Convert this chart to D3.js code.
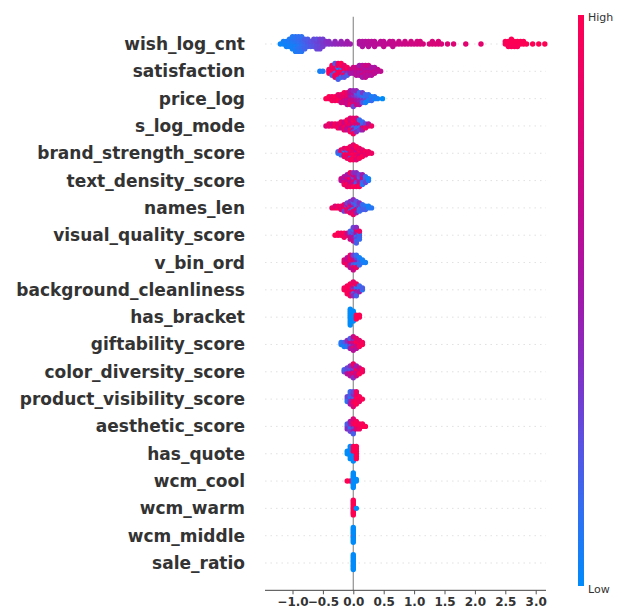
<!DOCTYPE html>
<html>
<head>
<meta charset="utf-8">
<script src="https://cdn.jsdelivr.net/npm/d3@7"></script>
<style>
  body { margin: 0; background: #fff; }
  svg { display: block; }
</style>
</head>
<body>
<svg id="chart" width="619" height="612"></svg>
<script>
// Feature names, top (most important) to bottom
const featureNames = [
  "wish_log_cnt", "satisfaction", "price_log", "s_log_mode", "brand_strength_score",
  "text_density_score", "names_len", "visual_quality_score", "v_bin_ord",
  "background_cleanliness", "has_bracket", "giftability_score", "color_diversity_score",
  "product_visibility_score", "aesthetic_score", "has_quote", "wcm_cool", "wcm_warm",
  "wcm_middle", "sale_ratio"
];

// Each row: [SHAP value, [normalised feature value of every sample with that SHAP value]]
const wish_log_cnt = [
  [-1.20, [.02]], [-1.15, [.03, .05]], [-1.10, [.02, .06, .04]], [-1.05, [.03, .07, .05, .08]],
  [-1.00, [.05, .08, .06, .1, .04, .09]], [-0.95, [.08, .1, .06, .12, .09, .11, .07]],
  [-0.90, [.1, .12, .09, .14, .11, .13, .1]], [-0.85, [.12, .15, .13, .16, .14, .12, .1]],
  [-0.80, [.15, .18, .16, .2, .17]], [-0.75, [.2, .22, .19, .21]], [-0.70, [.23, .25, .22]],
  [-0.65, [.25, .27, .24, .28]], [-0.60, [.27, .3, .28, .26, .29]], [-0.55, [.3, .32, .29, .33, .31]],
  [-0.50, [.33, .35, .34, .32]], [-0.45, [.36, .38]], [-0.40, [.38, .4]], [-0.35, [.4]],
  [-0.30, [.42, .43]], [-0.25, [.44]], [-0.20, [.45, .46]], [-0.15, [.47]], [-0.10, [.48, .5]],
  [-0.05, [.5]], [0.10, [.55, .57]], [0.15, [.56, .58, .57]], [0.20, [.58, .59]],
  [0.25, [.58, .6, .59]], [0.30, [.6, .61]], [0.35, [.6, .62, .61]], [0.40, [.62]],
  [0.45, [.62, .63]], [0.50, [.63, .64, .65]], [0.55, [.64]], [0.60, [.65, .66]],
  [0.65, [.66, .67, .65]], [0.70, [.67]], [0.75, [.68, .69]], [0.80, [.69]], [0.85, [.7, .71]],
  [0.90, [.71]], [0.95, [.72, .73]], [1.00, [.72]], [1.05, [.73, .74]], [1.10, [.74, .75]],
  [1.15, [.75]], [1.25, [.76]], [1.30, [.77, .76]], [1.35, [.77]], [1.40, [.78, .77]],
  [1.45, [.78]], [1.55, [.79]], [1.65, [.8]], [1.85, [.82]], [2.10, [.84]],
  [2.50, [.96, .97]], [2.55, [.97, .98, .96]], [2.60, [.98, .99, .97, .98]], [2.65, [.98, .99, .97]],
  [2.70, [.98, .99, .97]], [2.75, [.98, .99]], [2.80, [.99, .98]], [2.85, [.99]], [2.95, [.99]],
  [3.05, [1]], [3.15, [1]]
];
const satisfaction = [
  [-0.55, [.05]], [-0.50, [.08]], [-0.40, [.95, .9, 1]], [-0.35, [.95, 1, .9, .85, .2, .95]],
  [-0.30, [1, .95, .15, .9, 1, .95, .9, .2]], [-0.25, [.95, .9, 1, .1, .95, .85, 1, .9, .2]],
  [-0.20, [.9, 1, .95, .2, .9, .95, .15, 1]], [-0.15, [.9, .95, .3, .9, 1, .85, .25]],
  [-0.10, [.85, .9, .4, .95, .2]], [-0.05, [.6, .8, .5]], [0.00, [.6, .65, .55, .7]],
  [0.05, [.55, .6, .65, .7, .6]], [0.10, [.6, .65, .55, .7, .6, .5]],
  [0.15, [.6, .7, .55, .65, .75, .6, .5]], [0.20, [.65, .6, .7, .55, .6, .7, .65]],
  [0.25, [.6, .7, .65, .55, .6, .7]], [0.30, [.65, .6, .7, .55, .6]], [0.35, [.6, .7, .65, .55]],
  [0.40, [.6, .65]], [0.45, [.65]]
];
const price_log = [
  [-0.45, [1]], [-0.40, [.95, 1]], [-0.35, [1, .9, .95]], [-0.30, [.95, 1, .9]],
  [-0.25, [.9, .95, 1, .85]], [-0.20, [.9, .8, .95, .85, .7]], [-0.15, [.8, .9, .7, .85, .75, .95]],
  [-0.10, [.75, .8, .6, .9, .7, .85, .65]], [-0.05, [.7, .6, .8, .5, .75, .65, .9, .55]],
  [0.00, [.6, .5, .7, .4, .65, .55, .8, .45, .3]], [0.05, [.5, .4, .6, .3, .55, .2, .7, .45]],
  [0.10, [.4, .3, .5, .2, .45, .15, .6]], [0.15, [.3, .2, .4, .1, .25, .35]],
  [0.20, [.2, .1, .3, .15, .05]], [0.25, [.1, .2, .05, .15]], [0.30, [.1, .05, .15]],
  [0.35, [.05, .1]], [0.40, [.05]], [0.48, [0]]
];
const s_log_mode = [
  [-0.45, [.8]], [-0.40, [.85, .9]], [-0.35, [.9, .75]], [-0.30, [.85, .95]], [-0.25, [.9, .8, .95]],
  [-0.20, [.85, .95, .7, .9]], [-0.15, [.9, .8, .95, .7, .85]], [-0.10, [.95, .85, .7, .9, .6, 1]],
  [-0.05, [.9, .95, .6, .85, 1, .7, .95, .8]], [0.00, [.95, .7, .2, .9, .6, 1, .3, .85, .95]],
  [0.05, [.3, .9, .2, .7, .15, .95, .4, .8]], [0.10, [.2, .6, .1, .8, .3, .15]],
  [0.15, [.6, .2, .8, .15, .5]], [0.20, [.7, .3, .9]], [0.25, [.85, .6]], [0.30, [.9]]
];
const brand_strength_score = [
  [-0.25, [.1, .2]], [-0.20, [.15, .9, .1, .95]], [-0.15, [.2, .95, 1, .1, .9, .85]],
  [-0.10, [.95, .9, 1, .2, .85, .95, .9]], [-0.05, [1, .95, .9, .85, .95, 1, .3, .9, .95]],
  [0.00, [.95, .9, 1, .85, .95, .9, 1, .7, .95, .85]], [0.05, [.9, 1, .95, .6, .9, .85, .95, 1, .8]],
  [0.10, [.95, .9, .85, 1, .7, .9, .95]], [0.15, [.9, .95, .8, .85, 1]], [0.20, [.9, .95, .85]],
  [0.25, [.95, .9]], [0.30, [.9]]
];
const text_density_score = [
  [-0.20, [.6, .7]], [-0.15, [.7, .5, .8, .6, .9]], [-0.10, [.9, .6, .7, .8, 1, .5, .9]],
  [-0.05, [.8, .9, .6, 1, .7, .5, .9, .95]], [0.00, [.7, .5, .9, .3, .6, .8, 1, .4]],
  [0.05, [.5, .9, .3, .7, .2, .6, .95, .4]], [0.10, [.9, .4, .6, .2, .8, .3, 1]],
  [0.15, [.3, .6, .2, .8, .1, .5]], [0.20, [.1, .2, .3, .15]], [0.25, [.1, .05]]
];
const names_len = [
  [-0.35, [.9]], [-0.30, [.95, .8]], [-0.25, [1, .9]], [-0.20, [.7, .95, .85]],
  [-0.15, [.9, .6, 1, .8, .3]], [-0.10, [.8, .2, .95, .6, .9, .3]],
  [-0.05, [.9, .3, .7, .95, .2, .6, .85, .4]], [0.00, [.2, .8, .1, .6, .95, .3, .7, .15, .9, .4]],
  [0.05, [.3, .1, .7, .2, .9, .15, .5, .25]], [0.10, [.2, .6, .1, .3, .15, .4]],
  [0.15, [.1, .3, .2, .15]], [0.20, [.15, .1, .2]], [0.25, [.1, .05]], [0.30, [.1]]
];
const visual_quality_score = [
  [-0.30, [1]], [-0.25, [.95, 1]], [-0.20, [1, .9]], [-0.15, [.95, 1, .9]], [-0.10, [.9, .7]],
  [-0.05, [.5, .3, .6, .2, .7]], [0.00, [.4, .2, .6, .3, .5, .1, .7, .3]],
  [0.05, [.2, .5, .1, .6, .3, .9, .15, .4, .2]], [0.10, [.3, .1, .2, .9, .15]]
];
const v_bin_ord = [
  [-0.15, [.9, .8]], [-0.10, [.95, .7, .9, .6]], [-0.05, [.8, .9, .5, .95, .6, .85]],
  [0.00, [.4, .8, .2, .6, .9, .3, .7]], [0.05, [.2, .5, .1, .3, .9, .15]],
  [0.10, [.1, .2, .15, .05]], [0.15, [.1, .05]], [0.20, [.05]]
];
const background_cleanliness = [
  [-0.15, [1, .95]], [-0.10, [.95, 1, .9, .95, 1]], [-0.05, [1, .9, .95, 1, .85, .95, .9]],
  [0.00, [.9, .3, .95, .5, .2, 1, .4, .85]], [0.05, [.3, .2, .6, .1, .4, .9, .2]],
  [0.10, [.2, .1, .5, .15]], [0.15, [.1, .2]]
];
const has_bracket = [
  [-0.05, [0, 0, 0, 0, 0, 0, 0, 0, 0]], [0.00, [0, 0, 0, 0, 0, 0]], [0.05, [1, 1, 1]], [0.10, [1, 1]]
];
const giftability_score = [
  [-0.20, [.05, .1]], [-0.15, [.1, .2, .05]], [-0.10, [.2, .3, .1, .4]],
  [-0.05, [.4, .6, .3, .7, .5, .2]], [0.00, [.6, .7, .5, .8, .9, .4, .6, .7]],
  [0.05, [.8, .9, .7, 1, .6, .85]], [0.10, [.9, 1, .95, .85]], [0.15, [1, .95]]
];
const color_diversity_score = [
  [-0.15, [.3, .2]], [-0.10, [.4, .2, .6, .3]], [-0.05, [.5, .3, .8, .2, .6, .4]],
  [0.00, [.7, .5, .9, .3, .8, .6, .4, .9]], [0.05, [.8, .9, .6, 1, .7, .5]],
  [0.10, [.9, .8, 1, .7]], [0.15, [.9, .95]]
];
const product_visibility_score = [
  [-0.10, [.2, .3, .1]], [-0.05, [.3, .1, .4, .2, .5, .15]], [0.00, [.6, .2, .9, .4, .95, .3, .8]],
  [0.05, [.9, 1, .95, .85, 1, .9]], [0.10, [1, .95, .9]], [0.15, [1]]
];
const aesthetic_score = [
  [-0.10, [.3, .2, .4]], [-0.05, [.2, .4, .1, .5, .3]], [0.00, [.6, .9, .3, .95, .5, .8, .2]],
  [0.05, [.9, 1, .8, .95]], [0.10, [1, .95, .9]], [0.15, [1, .95]], [0.20, [1]]
];
const has_quote = [
  [-0.10, [0, 0]], [-0.05, [0, 0, 0, 0, 0, 0]], [0.00, [0, 1, 0, 1, 0, 1, 0]], [0.05, [1, 1, 1, 1, 1, 1]]
];
const wcm_cool = [
  [-0.10, [1]], [-0.05, [1]], [0.00, [0, 0, 0, 0, 0, 0, 0, 0, 0, 0]], [0.05, [0, 0]]
];
const wcm_warm = [
  [0.00, [1, 1, 1, 1, 1, 1, 1, 1, 1, 1]], [0.05, [0]]
];
const wcm_middle = [
  [0.00, [1, 0, 0, 0, 0, 0, 0, 0, 0, 0]]
];
const sale_ratio = [
  [0.00, [0, 0, 0, 0, 0, 0, 0, 0, 0, 0]]
];

const rowsData = [
  wish_log_cnt, satisfaction, price_log, s_log_mode, brand_strength_score,
  text_density_score, names_len, visual_quality_score, v_bin_ord, background_cleanliness,
  has_bracket, giftability_score, color_diversity_score, product_visibility_score,
  aesthetic_score, has_quote, wcm_cool, wcm_warm, wcm_middle, sale_ratio
];

const xTicks = [-1.0, -0.5, 0.0, 0.5, 1.0, 1.5, 2.0, 2.5, 3.0];
const legendLabels = ["High", "Low"];

// Low → High colour ramp (blue → violet → magenta → red)
const rampStops = ["#008bfb", "#3070f2", "#5a52e2", "#8230c6", "#a01aac", "#bb0c95", "#d4057c", "#ea0266", "#ff0052"];

// ---- scales ----
const svg = d3.select("#chart");
const x = d3.scaleLinear().domain([-1, 3]).range([292.5, 535.7]);
const y = d3.scaleLinear().domain([0, featureNames.length - 1]).range([44, 563]);
const rowStep = y(1) - y(0);
const plotLeft = 265, plotRight = 546, plotTop = y(-1), plotBottom = y(featureNames.length);

const color = d3.scaleLinear()
  .domain(d3.range(rampStops.length).map(i => i / (rampStops.length - 1)))
  .range(rampStops)
  .interpolate(d3.interpolateRgb)
  .clamp(true);

// ---- row gridlines ----
svg.append("g").selectAll("line").data(featureNames).join("line")
  .attr("x1", plotLeft).attr("x2", plotRight)
  .attr("y1", (d, i) => y(i)).attr("y2", (d, i) => y(i))
  .attr("stroke", "#cccccc").attr("stroke-width", 0.6)
  .attr("stroke-dasharray", "1.5,4");

// ---- zero line ----
svg.append("line")
  .attr("x1", x(0)).attr("x2", x(0))
  .attr("y1", plotTop).attr("y2", plotBottom)
  .attr("stroke", "#999999").attr("stroke-width", 1.3);

// ---- beeswarm layout: bin SHAP values, stack alternately above/below ----
const binWidth = 0.05;
const points = [];
rowsData.forEach((row, ri) => {
  const pts = [];
  row.forEach(([s, fvs]) => fvs.forEach(fv => pts.push({ s, fv, row: ri })));
  const bins = d3.group(pts, p => Math.round(p.s / binWidth));
  bins.forEach(arr => arr.forEach((p, i) => {
    p.layer = Math.ceil(i / 2) * ((i % 2) * 2 - 1);
  }));
  const maxLayer = d3.max(pts, p => p.layer);
  const k = 0.9 * 0.4 * rowStep / (maxLayer + 1);
  pts.forEach(p => { p.dy = -p.layer * k; points.push(p); });
});

svg.append("g").selectAll("circle").data(points).join("circle")
  .attr("cx", d => x(d.s))
  .attr("cy", d => y(d.row) + d.dy)
  .attr("r", 2.7)
  .attr("fill", d => color(d.fv));

// ---- feature labels ----
svg.append("g").selectAll("text").data(featureNames).join("text")
  .attr("x", 245).attr("y", (d, i) => y(i))
  .attr("text-anchor", "end").attr("dominant-baseline", "central")
  .attr("font-family", "DejaVu Sans, sans-serif").attr("font-weight", "bold")
  .attr("font-size", 17).attr("fill", "#333333")
  .text(d => d);

// ---- x axis ----
svg.append("line")
  .attr("x1", plotLeft).attr("x2", plotRight)
  .attr("y1", plotBottom).attr("y2", plotBottom)
  .attr("stroke", "#444").attr("stroke-width", 1);

const axis = svg.append("g")
  .attr("transform", `translate(0,${plotBottom})`)
  .call(d3.axisBottom(x).tickValues(xTicks).tickFormat(d3.format(".1f")).tickSize(4).tickPadding(3));
axis.select(".domain").remove();
axis.selectAll(".tick line").attr("stroke", "#555");
axis.selectAll(".tick text")
  .attr("font-family", "DejaVu Sans, sans-serif").attr("font-weight", "bold")
  .attr("font-size", 12).attr("fill", "#333333");

// ---- colour bar ----
const barX = 578, barW = 6, barTop = 15, barBottom = 586;
const grad = svg.append("defs").append("linearGradient")
  .attr("id", "cbar").attr("x1", 0).attr("y1", 1).attr("x2", 0).attr("y2", 0);
d3.range(0, 1.0001, 0.05).forEach(t => {
  grad.append("stop").attr("offset", t).attr("stop-color", color(t));
});
svg.append("rect")
  .attr("x", barX).attr("y", barTop).attr("width", barW).attr("height", barBottom - barTop)
  .attr("fill", "url(#cbar)");

svg.append("g").selectAll("text").data(legendLabels).join("text")
  .attr("x", barX + barW + 4)
  .attr("y", (d, i) => i === 0 ? barTop + 2 : barBottom + 3)
  .attr("dominant-baseline", "central")
  .attr("font-family", "DejaVu Sans, sans-serif")
  .attr("font-size", 11).attr("fill", "#333333")
  .text(d => d);
</script>
</body>
</html>
